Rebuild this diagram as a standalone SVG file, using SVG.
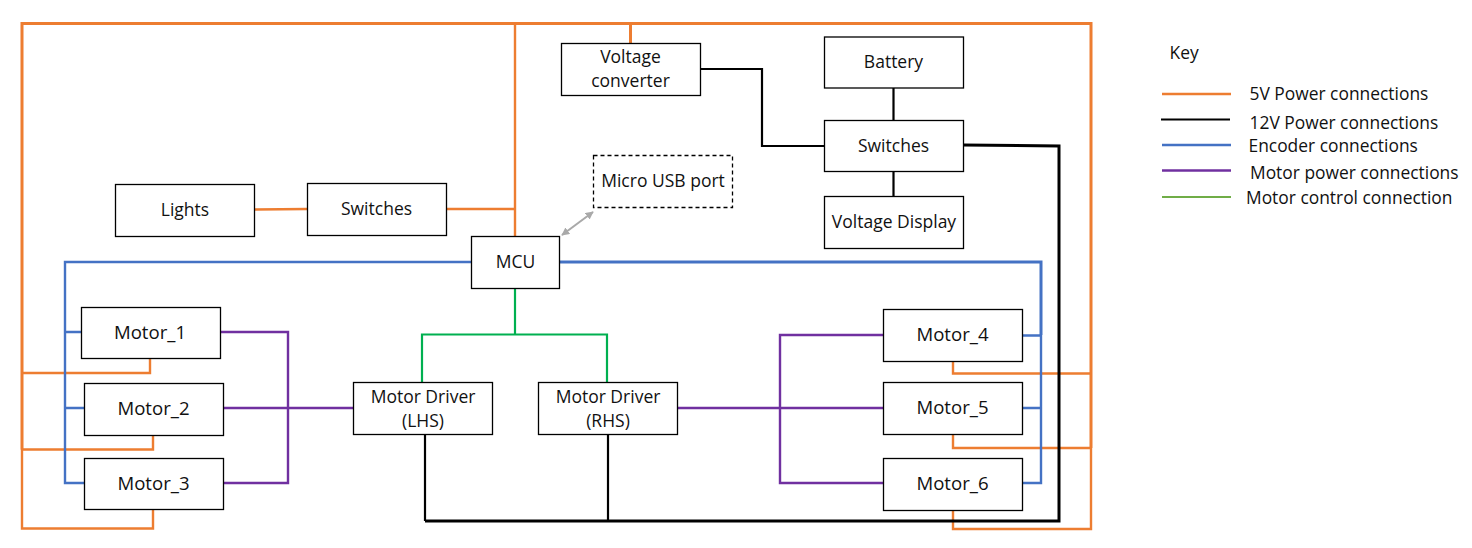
<svg xmlns="http://www.w3.org/2000/svg" width="1472" height="548" viewBox="0 0 1472 548">
<style>
.b{fill:#fff;stroke:#000;stroke-width:1.3}
.d{stroke-dasharray:4 3}
text{font-family:"Open Sans","Noto Sans","Liberation Sans",sans-serif;font-size:17.5px;fill:#111;text-anchor:middle}
.m{font-size:18.6px}
.k{text-anchor:start;font-size:17.4px}
#connectors path,#key path{fill:none;stroke-linejoin:miter}
.o{stroke:#ed7d31;stroke-width:2.4}
.o3{stroke:#ed7d31;stroke-width:3}
.k2{stroke:#000;stroke-width:2.2}
.k3{stroke:#000;stroke-width:3}
.bl{stroke:#4472c4;stroke-width:2.4}
.bl3{stroke:#4472c4;stroke-width:3}
.p{stroke:#7030a0;stroke-width:2.4}
.g{stroke:#00b050;stroke-width:2.2}
.gk{stroke:#70ad47;stroke-width:2.2}
.gr{stroke:#a9a9a9;stroke-width:2;fill:none}
</style>
<defs>
<marker id="ah" viewBox="0 0 10 10" refX="9" refY="5" markerWidth="8" markerHeight="8" markerUnits="userSpaceOnUse" orient="auto-start-reverse"><path d="M0 0L10 5L0 10Z" fill="#a9a9a9"/></marker>
</defs>
<g id="connectors">
<path class="o3" d="M22 449.500V23.500H1091V448"/>
<path class="o" d="M22 449V528.500H153V509.500M22 373H150V358M22 449.500H153V435"/>
<path class="o" d="M1091 448V529H953V510M1091 373.500H953V361M1091 448H953V434"/>
<path class="o" d="M515 23.500V236.500M447 209H515M255 209.500L307 209"/>
<path class="o3" d="M630.500 23.500V43"/>
<path class="k2" d="M700.500 69H762V146H824M893.500 88V121M893.500 171V196M425 521V434"/>
<path class="k2" d="M608 434V521"/>
<path class="k3" d="M963 145L1059 146V521H425"/>
<path class="bl" d="M471.500 262H65V483H84.500M65 332H81M65 408H84.500"/>
<path class="bl3" d="M559.500 262H1041V335"/>
<path class="bl" d="M1041 335V483H1022.500M1041 335.500H1022.500M1041 408H1022.500"/>
<path class="p" d="M220 332H288V483H223M223 408H353.500"/>
<path class="p" d="M677 408H883.500M883.500 335H780V483H883.500"/>
<path class="g" d="M515 288.500V334M422 382V334.500H607V382"/>
<line class="gr" x1="562" y1="235" x2="593" y2="212" marker-start="url(#ah)" marker-end="url(#ah)"/>
</g>
<g id="lights"><rect class="b" x="115.500" y="184.500" width="139" height="52"/><text x="185" y="216">Lights</text></g>
<g id="switches-left"><rect class="b" x="307.500" y="183.500" width="139" height="52"/><text x="376.500" y="215">Switches</text></g>
<g id="voltage-converter"><rect class="b" x="561.500" y="43.500" width="139" height="52"/><text x="630.500" y="63">Voltage</text><text x="630.500" y="87">converter</text></g>
<g id="micro-usb"><rect class="b d" x="593.500" y="155.500" width="139" height="52"/><text x="663" y="187">Micro USB port</text></g>
<g id="mcu"><rect class="b" x="471.500" y="236.500" width="88" height="52"/><text x="515.500" y="268">MCU</text></g>
<g id="battery"><rect class="b" x="824.500" y="37" width="139" height="51"/><text x="893.500" y="68">Battery</text></g>
<g id="switches-right"><rect class="b" x="824.500" y="120.500" width="139" height="51"/><text x="893.500" y="152">Switches</text></g>
<g id="voltage-display"><rect class="b" x="824.500" y="196.500" width="139" height="52"/><text x="894" y="228">Voltage Display</text></g>
<g id="motor-1"><rect class="b" x="81.500" y="307.500" width="139" height="51"/><text class="m" x="150" y="339">Motor_1</text></g>
<g id="motor-2"><rect class="b" x="84.500" y="383.500" width="139" height="52"/><text class="m" x="153.500" y="415">Motor_2</text></g>
<g id="motor-3"><rect class="b" x="84.500" y="458.500" width="139" height="51"/><text class="m" x="153.500" y="490">Motor_3</text></g>
<g id="driver-lhs"><rect class="b" x="353.500" y="382.500" width="139" height="52"/><text x="423" y="403">Motor Driver</text><text x="423" y="427">(LHS)</text></g>
<g id="driver-rhs"><rect class="b" x="538.500" y="382.500" width="139" height="52"/><text x="608" y="403">Motor Driver</text><text x="608" y="427">(RHS)</text></g>
<g id="motor-4"><rect class="b" x="883.500" y="309.500" width="139" height="52"/><text class="m" x="952.500" y="341">Motor_4</text></g>
<g id="motor-5"><rect class="b" x="883.500" y="382.500" width="139" height="52"/><text class="m" x="952.500" y="414">Motor_5</text></g>
<g id="motor-6"><rect class="b" x="883.500" y="458.500" width="139" height="52"/><text class="m" x="952.500" y="490">Motor_6</text></g>
<g id="key">
<text class="k" x="1169.500" y="59">Key</text>
<path class="o" d="M1162 94H1231"/><text class="k" x="1249.500" y="100">5V Power connections</text>
<path class="k2" d="M1161 119.500H1230"/><text class="k" x="1249.500" y="129">12V Power connections</text>
<path class="bl" d="M1162 145H1231"/><text class="k" x="1248.500" y="152">Encoder connections</text>
<path class="p" d="M1162 170.500H1231"/><text class="k" x="1250" y="179">Motor power connections</text>
<path class="gk" d="M1162 197H1231"/><text class="k" x="1246" y="204">Motor control connection</text>
</g>
</svg>
